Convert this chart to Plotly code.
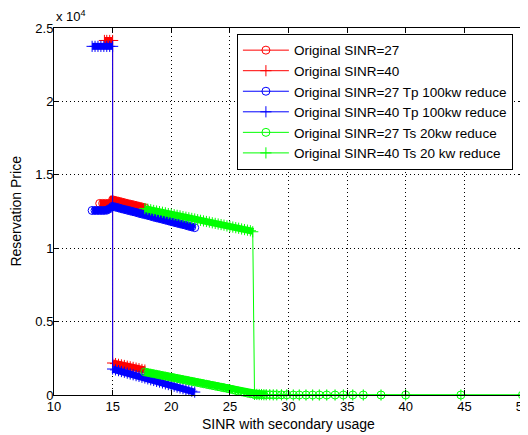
import plotly.graph_objects as go

# ---------------- data (price in units of 1e4) ----------------
# top "cap" segments
cap_blue_sinr = [13.25, 13.5, 13.75, 14.0, 14.25, 14.5, 14.75, 15.0]
cap_blue_price = [2.375, 2.375, 2.375, 2.375, 2.375, 2.375, 2.375, 2.375]
cap_red_sinr = [14.3, 14.5, 14.75, 15.0]
cap_red_price = [2.415, 2.415, 2.415, 2.415]

# flat parts left of SINR=15
flat_red_sinr = [13.9, 14.15, 14.4, 14.65, 14.9]
flat_red_price = [1.305, 1.305, 1.305, 1.305, 1.306]
flat_blue_sinr = [13.25, 13.5, 13.75, 14.0, 14.25, 14.5, 14.75]
flat_blue_price = [1.257, 1.257, 1.257, 1.257, 1.257, 1.259, 1.270]

# red branches
sinr_red = [15.0, 15.25, 15.5, 15.75, 16.0, 16.25, 16.5, 16.75, 17.0, 17.25, 17.5, 17.75]
red_upper = [1.330, 1.325, 1.320, 1.315, 1.310, 1.305, 1.300, 1.296, 1.291, 1.286, 1.281, 1.276]
red_lower = [0.218, 0.214, 0.209, 0.205, 0.201, 0.196, 0.192, 0.188, 0.183, 0.179, 0.174, 0.170]

# blue branches
sinr_blue = [15.0, 15.25, 15.5, 15.75, 16.0, 16.25, 16.5, 16.75, 17.0, 17.25, 17.5, 17.75,
             18.0, 18.25, 18.5, 18.75, 19.0, 19.25, 19.5, 19.75, 20.0, 20.25, 20.5, 20.75,
             21.0, 21.25, 21.5, 21.75, 22.0]
blue_upper = [1.285, 1.280, 1.275, 1.269, 1.264, 1.259, 1.254, 1.249, 1.244, 1.238, 1.233, 1.228,
              1.223, 1.218, 1.212, 1.207, 1.202, 1.197, 1.192, 1.187, 1.181, 1.176, 1.171, 1.166,
              1.161, 1.156, 1.150, 1.145, 1.140]
blue_lower = [0.177, 0.171, 0.166, 0.160, 0.155, 0.149, 0.143, 0.138, 0.132, 0.127, 0.121, 0.116,
              0.110, 0.104, 0.099, 0.093, 0.088, 0.082, 0.076, 0.071, 0.065, 0.060, 0.054, 0.048,
              0.043, 0.037, 0.032, 0.026, 0.020]

# green branches
sinr_green = [17.75, 18.0, 18.25, 18.5, 18.75, 19.0, 19.25, 19.5, 19.75, 20.0, 20.25, 20.5,
              20.75, 21.0, 21.25, 21.5, 21.75, 22.0, 22.25, 22.5, 22.75, 23.0, 23.25, 23.5,
              23.75, 24.0, 24.25, 24.5, 24.75, 25.0, 25.25, 25.5, 25.75, 26.0, 26.25, 26.5,
              26.75, 27.0]
green_upper = [1.270, 1.266, 1.262, 1.257, 1.253, 1.249, 1.245, 1.241, 1.236, 1.232, 1.228, 1.224,
               1.220, 1.215, 1.211, 1.207, 1.203, 1.199, 1.194, 1.190, 1.186, 1.182, 1.178, 1.173,
               1.169, 1.165, 1.161, 1.157, 1.152, 1.148, 1.144, 1.140, 1.136, 1.131, 1.127, 1.123,
               1.119, 1.115]
green_lower = [0.157, 0.153, 0.149, 0.145, 0.141, 0.137, 0.133, 0.129, 0.125, 0.121, 0.117, 0.113,
               0.109, 0.105, 0.101, 0.097, 0.093, 0.089, 0.085, 0.081, 0.077, 0.073, 0.069, 0.065,
               0.061, 0.057, 0.053, 0.049, 0.045, 0.041, 0.036, 0.031, 0.026, 0.022, 0.017, 0.013,
               0.009, 0.006]
# tail near zero price after the drop
tail_sinr = [27.1, 27.3, 27.5, 27.7, 27.9, 28.1, 28.4, 28.7, 29.0, 29.4, 29.85, 30.41, 30.92,
             31.49, 32.06, 32.63, 33.26, 33.97, 34.68, 35.48, 36.38, 37.89, 39.99, 44.7, 49.95]
tail_price = [0.004, 0.004, 0.003, 0.003, 0.002, 0.002, 0.002, 0.001, 0.001, 0.001, 0.001, 0.0,
              0.0, 0.0, 0.0, 0.0, 0.0, 0.0, 0.0, 0.0, 0.0, 0.0, 0.0, 0.0, 0.0]

x_ticks = [10, 15, 20, 25, 30, 35, 40, 45, 50]
y_ticks = [0, 0.5, 1, 1.5, 2, 2.5]
y_tick_labels = ["0", "0.5", "1", "1.5", "2", "2.5"]

legend_names = [
    "Original SINR=27",
    "Original SINR=40",
    "Original SINR=27 Tp 100kw reduce",
    "Original SINR=40 Tp 100kw reduce",
    "Original SINR=27 Ts 20kw reduce",
    "Original SINR=40 Ts 20 kw reduce",
]

RED, BLUE, GREEN = "#ff0000", "#0000ff", "#00ff00"

# ---------------- series paths ----------------
series = [
    (legend_names[0], RED, "circle-open",
     flat_red_sinr + sinr_red, flat_red_price + red_upper,
     [(flat_red_sinr + sinr_red, flat_red_price + red_upper)]),
    (legend_names[1], RED, "cross-thin-open",
     cap_red_sinr + sinr_red, cap_red_price + red_lower,
     [(cap_red_sinr, cap_red_price), (sinr_red, red_lower)]),
    (legend_names[2], BLUE, "circle-open",
     flat_blue_sinr + sinr_blue, flat_blue_price + blue_upper,
     [(flat_blue_sinr + sinr_blue, flat_blue_price + blue_upper)]),
    (legend_names[3], BLUE, "cross-thin-open",
     cap_blue_sinr + sinr_blue, cap_blue_price + blue_lower,
     [(cap_blue_sinr, cap_blue_price), (sinr_blue, blue_lower)]),
    (legend_names[4], GREEN, "circle-open",
     sinr_green + tail_sinr, green_lower + tail_price,
     [(sinr_green + tail_sinr[:6], green_lower + tail_price[:6])]),
    (legend_names[5], GREEN, "cross-thin-open",
     sinr_green[:-1] + [26.95] + tail_sinr, green_upper[:-1] + [1.112] + tail_price,
     [(sinr_green, green_upper), (tail_sinr[:6], tail_price[:6])]),
]

fig = go.Figure()
for name, color, symbol, xs, ys, bands in series:
    bx, by = [], []
    for sx, sy in bands:
        bx += list(sx) + [None]
        by += list(sy) + [None]
    fig.add_trace(go.Scatter(
        x=bx, y=by, mode="lines", showlegend=False, hoverinfo="skip",
        line=dict(color=color, width=7), connectgaps=False))
    fig.add_trace(go.Scatter(
        x=xs, y=ys, name=name, mode="lines+markers",
        line=dict(color=color, width=1),
        marker=dict(symbol=symbol, size=8, color=color, line=dict(color=color, width=1)),
        cliponaxis=False))

FONT = "Liberation Sans, Arial, sans-serif"
axis_common = dict(
    showline=True, linecolor="black", linewidth=1, mirror="ticks",
    ticks="inside", ticklen=5, tickcolor="black",
    showgrid=True, gridcolor="black", gridwidth=1, griddash="1px,3px",
    zeroline=False, tickfont=dict(family=FONT, size=13, color="black"),
    ticklabeloverflow="allow", automargin=False,
)

# The page body has an 8px margin, so the figure is 8px smaller on each side
fig.update_layout(
    width=520, height=427,
    margin=dict(l=46, r=5, t=20, b=40, autoexpand=False),
    paper_bgcolor="white", plot_bgcolor="white",
    font=dict(family=FONT, size=13, color="black"),
    xaxis=dict(range=[10, 50], tickvals=x_ticks, ticklabelstandoff=-1, **axis_common),
    yaxis=dict(range=[0, 2.5], tickvals=y_ticks, ticktext=y_tick_labels,
               ticklabelstandoff=-3, **axis_common),
    legend=dict(x=0.39, y=0.984, xanchor="left", yanchor="top",
                bgcolor="white", bordercolor="black", borderwidth=1,
                font=dict(family=FONT, size=13.5, color="black"),
                itemwidth=46, tracegroupgap=0),
    annotations=[
        dict(text="x 10<sup>4</sup>", xref="paper", yref="paper", x=0.0, y=1.0,
             xanchor="left", yanchor="bottom", showarrow=False, yshift=2,
             font=dict(size=13)),
        dict(text="Reservation Price", xref="paper", yref="paper", x=-0.083, y=0.5,
             textangle=-90, showarrow=False, xanchor="center", yanchor="middle",
             font=dict(size=14)),
        dict(text="SINR with secondary usage", xref="paper", yref="paper", x=0.5, y=-0.079,
             showarrow=False, xanchor="center", yanchor="middle", font=dict(size=14)),
    ],
)

fig.write_html("out.html")
